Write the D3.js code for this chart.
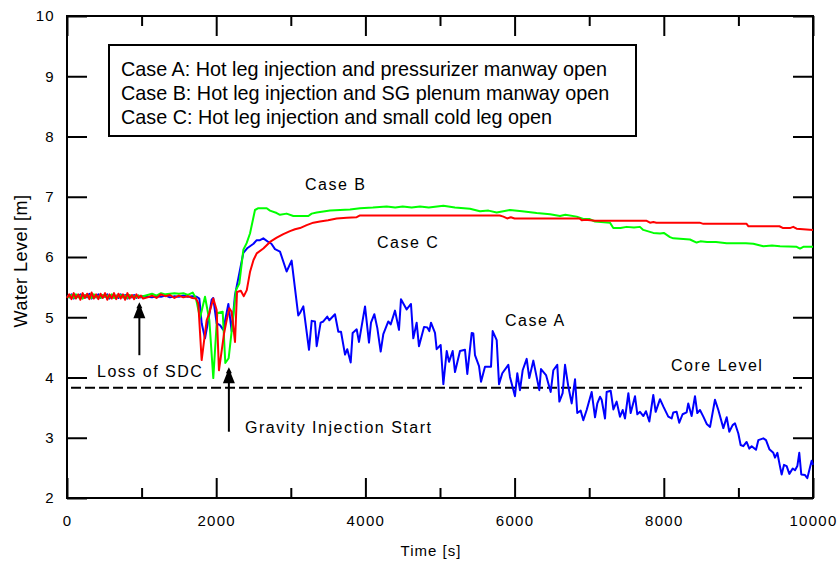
<!DOCTYPE html>
<html><head><meta charset="utf-8">
<script src="https://cdn.jsdelivr.net/npm/d3@7"></script>
<style>
html,body{margin:0;padding:0;background:#fff;}
svg{display:block;font-family:"Liberation Sans",Arial,Helvetica,sans-serif;}
</style></head>
<body><svg id="chart" width="839" height="562"></svg>
<script>
// ---------------- data ----------------
const xMajorTicks = [0, 2000, 4000, 6000, 8000, 10000];
const xMinorTicks = [1000, 3000, 5000, 7000, 9000];
const yTicks = [2, 3, 4, 5, 6, 7, 8, 9, 10];

const legendLines = [
  "Case A: Hot leg injection and pressurizer manway open",
  "Case B: Hot leg injection and SG plenum manway open",
  "Case C: Hot leg injection and small cold leg open"
];

const coreLevel = 3.83;

// Case A (blue): [time s, level m]
const caseA = [
[0,5.36],[30,5.33],[60,5.38],[90,5.31],[120,5.37],[150,5.34],[180,5.38],[210,5.32],[240,5.36],[270,5.33],[300,5.39],[330,5.31],[360,5.37],[390,5.33],[420,5.38],[450,5.32],[480,5.36],[510,5.34],[540,5.38],[570,5.31],[600,5.37],[630,5.33],[660,5.36],[690,5.32],[720,5.38],[750,5.33],[780,5.37],[810,5.31],[840,5.36],[870,5.33],[900,5.37],[930,5.32],[960,5.36],[990,5.33],[1020,5.35],
[1080,5.34],[1140,5.33],[1200,5.35],[1260,5.34],[1320,5.36],[1380,5.33],[1440,5.35],[1500,5.34],[1560,5.36],[1620,5.34],[1680,5.35],[1738,5.34],[1774,5.31],[1805,4.90],[1850,4.65],[1894,4.95],[1939,5.29],[1960,5.32],[2006,4.90],[2051,4.87],[2095,4.79],[2163,5.22],[2207,4.77],[2252,5.37],[2297,5.65],[2364,6.07],[2420,6.15],[2500,6.22],[2543,6.28],[2587,6.28],[2632,6.31],[2699,6.25],[2740,6.22],[2788,6.13],[2855,6.09],[2944,5.76],[3011,5.94],[3100,5.03],[3123,5.07],[3168,5.18],[3244,4.46],[3280,4.94],[3324,4.93],[3347,4.52],[3400,4.91],[3436,4.93],[3489,5.01],[3516,4.95],[3592,5.05],[3637,4.76],[3673,4.76],[3727,4.38],[3757,4.47],[3803,4.25],[3829,4.74],[3883,4.80],[3914,4.59],[3995,5.18],[4048,4.58],[4075,4.91],[4120,5.05],[4160,4.82],[4205,4.43],[4240,4.72],[4307,4.93],[4339,4.88],[4397,5.11],[4450,4.79],[4477,5.30],[4553,5.13],[4611,5.22],[4642,4.65],[4687,4.91],[4718,4.52],[4786,4.84],[4830,4.83],[4857,4.77],[4879,4.91],[4933,4.74],[4955,4.47],[5009,4.54],[5045,3.89],[5090,4.44],[5121,4.26],[5170,4.44],[5201,4.09],[5268,4.44],[5335,4.46],[5366,4.06],[5425,4.74],[5447,4.73],[5469,4.37],[5523,4.19],[5550,3.93],[5603,4.18],[5648,4.18],[5684,4.18],[5706,4.77],[5760,4.62],[5791,3.89],[5835,4.07],[5916,4.21],[5938,4.01],[6005,3.69],[6036,4.07],[6072,3.79],[6108,4.12],[6162,4.31],[6197,3.99],[6251,4.28],[6331,3.79],[6354,4.14],[6421,4.04],[6484,3.76],[6519,4.12],[6572,4.21],[6600,3.60],[6644,3.74],[6676,4.21],[6720,3.85],[6765,3.57],[6810,3.97],[6840,3.41],[6886,3.45],[6921,3.29],[6966,3.46],[7033,3.76],[7078,3.34],[7109,3.57],[7145,3.68],[7167,3.63],[7212,3.32],[7234,3.76],[7288,3.78],[7324,3.47],[7368,3.60],[7413,3.35],[7449,3.46],[7480,3.32],[7525,3.74],[7556,3.41],[7614,3.69],[7645,3.39],[7681,3.43],[7726,3.36],[7761,3.44],[7806,3.27],[7859,3.71],[7891,3.43],[7949,3.64],[7993,3.52],[8060,3.35],[8105,3.32],[8127,3.42],[8172,3.43],[8207,3.25],[8252,3.39],[8306,3.42],[8328,3.57],[8373,3.36],[8418,3.69],[8449,3.41],[8485,3.46],[8530,3.35],[8575,3.23],[8620,3.18],[8686,3.63],[8731,3.46],[8798,3.16],[8843,3.34],[8878,3.10],[8923,3.21],[8954,3.24],[8999,3.07],[9030,2.88],[9066,2.86],[9110,2.93],[9146,2.82],[9178,2.86],[9236,2.80],[9267,2.96],[9334,2.99],[9370,2.96],[9415,2.81],[9468,2.75],[9491,2.67],[9522,2.75],[9558,2.52],[9580,2.39],[9611,2.55],[9647,2.53],[9683,2.40],[9728,2.49],[9759,2.46],[9790,2.53],[9816,2.75],[9843,2.39],[9893,2.38],[9924,2.33],[9960,2.51],[9982,2.62],[10000,2.55]
];

// Case B (green)
const caseB = [
[0,5.35],[30,5.33],[60,5.37],[90,5.32],[120,5.38],[150,5.33],[180,5.36],[210,5.31],[240,5.37],[270,5.34],[300,5.36],[330,5.32],[360,5.38],[390,5.33],[420,5.35],[450,5.32],[480,5.37],[510,5.34],[540,5.36],[570,5.33],[600,5.38],[630,5.32],[660,5.36],[690,5.34],[720,5.37],[750,5.33],[780,5.36],[810,5.32],[840,5.37],[870,5.34],[900,5.35],[930,5.33],[960,5.36],[990,5.34],[1020,5.35],
[1080,5.37],[1140,5.39],[1200,5.36],[1260,5.40],[1320,5.38],[1380,5.39],[1440,5.40],[1500,5.39],[1560,5.40],[1620,5.37],[1685,5.41],[1729,5.31],[1783,4.99],[1850,5.34],[1908,4.95],[1961,3.99],[2015,5.07],[2087,5.09],[2122,4.24],[2167,4.32],[2229,5.01],[2265,5.45],[2310,5.56],[2364,6.12],[2408,6.23],[2453,6.39],[2520,6.78],[2565,6.81],[2677,6.81],[2721,6.77],[2811,6.73],[2855,6.70],[2944,6.72],[3034,6.68],[3123,6.68],[3235,6.68],[3280,6.72],[3347,6.74],[3526,6.77],[3794,6.79],[3928,6.81],[4100,6.82],[4285,6.84],[4400,6.82],[4500,6.84],[4620,6.82],[4732,6.84],[4850,6.82],[5045,6.85],[5200,6.82],[5402,6.80],[5536,6.76],[5650,6.77],[5760,6.74],[5938,6.78],[6100,6.76],[6296,6.73],[6475,6.71],[6609,6.68],[6680,6.70],[6832,6.67],[6921,6.63],[7000,6.63],[7078,6.59],[7279,6.57],[7323,6.48],[7420,6.48],[7502,6.50],[7600,6.49],[7680,6.50],[7725,6.45],[7859,6.40],[7950,6.39],[8000,6.40],[8083,6.33],[8127,6.31],[8351,6.29],[8440,6.24],[8490,6.26],[8580,6.25],[8700,6.25],[8843,6.23],[8950,6.23],[9100,6.23],[9200,6.22],[9334,6.18],[9450,6.19],[9558,6.18],[9781,6.17],[9826,6.14],[9870,6.17],[10000,6.17]
];

// Case C (red)
const caseC = [
[0,5.32],[30,5.38],[60,5.30],[90,5.40],[120,5.31],[150,5.38],[180,5.29],[210,5.40],[240,5.32],[270,5.39],[300,5.30],[330,5.41],[360,5.31],[390,5.38],[420,5.30],[450,5.39],[480,5.32],[510,5.40],[540,5.29],[570,5.38],[600,5.31],[630,5.40],[660,5.30],[690,5.39],[720,5.31],[750,5.38],[780,5.29],[810,5.40],[840,5.31],[870,5.37],[900,5.30],[930,5.38],[960,5.32],[990,5.36],[1020,5.31],
[1080,5.33],[1140,5.36],[1200,5.32],[1260,5.38],[1320,5.35],[1380,5.37],[1440,5.32],[1500,5.36],[1560,5.33],[1620,5.35],[1680,5.32],[1730,5.31],[1760,5.23],[1805,4.29],[1872,4.95],[1908,5.07],[1961,5.31],[2006,5.12],[2037,4.12],[2105,4.73],[2140,4.95],[2176,5.15],[2207,5.09],[2252,4.59],[2279,5.42],[2330,5.44],[2370,5.35],[2410,5.45],[2453,5.75],[2500,5.95],[2543,6.06],[2632,6.14],[2721,6.25],[2811,6.32],[2900,6.38],[2989,6.43],[3056,6.46],[3123,6.48],[3213,6.53],[3302,6.57],[3391,6.59],[3500,6.61],[3615,6.64],[3750,6.65],[3883,6.66],[3928,6.69],[5800,6.69],[5850,6.67],[5900,6.64],[5950,6.66],[6000,6.64],[6870,6.64],[6900,6.61],[6950,6.62],[7080,6.60],[7770,6.60],[7815,6.57],[7860,6.58],[7900,6.57],[8480,6.57],[8530,6.55],[9110,6.55],[9135,6.51],[9550,6.51],[9600,6.48],[9690,6.48],[9735,6.50],[9780,6.47],[10000,6.45]
];

const seriesColors = ["#0000ff", "#00ff00", "#ff0000"];

// annotations: [text, time, level]
const notes = [
  ["Case B", 3190, 7.11],
  ["Case C", 4155, 6.15],
  ["Case A", 5871, 4.85],
  ["Core Level", 8097, 4.11],
  ["Loss of SDC", 402, 4.01],
  ["Gravity Injection Start", 2386, 3.08]
];
// arrows: [time, tip level, tail level]
const arrows = [
  [970, 5.25, 4.37],
  [2170, 4.17, 3.10]
];

// ---------------- drawing ----------------
const svg = d3.select("#chart");
const L = 67, R = 813, T = 16, B = 498;
const x = d3.scaleLinear().domain([0, 10000]).range([L, R]);
const y = d3.scaleLinear().domain([2, 10]).range([B, T]);
const FONT = '"Liberation Sans",Arial,Helvetica,sans-serif';

function styleAxis(g, showText) {
  g.select(".domain").remove();
  g.selectAll(".tick line").attr("stroke", "#000").attr("stroke-width", 2);
  g.selectAll(".tick text").attr("fill", "#000").attr("font-size", 15)
    .attr("font-family", FONT).style("letter-spacing", "1.3px");
  if (!showText) g.selectAll(".tick text").remove();
}

svg.append("g").attr("transform", `translate(0,${B})`)
  .call(d3.axisBottom(x).tickValues(xMajorTicks).tickSize(-20).tickPadding(17).tickFormat(d3.format("d")))
  .call(g => styleAxis(g, true));
svg.append("g").attr("transform", `translate(0,${B})`)
  .call(d3.axisBottom(x).tickValues(xMinorTicks).tickSize(-10))
  .call(g => styleAxis(g, false));
svg.append("g").attr("transform", `translate(0,${T})`)
  .call(d3.axisTop(x).tickValues(xMajorTicks).tickSize(-20))
  .call(g => styleAxis(g, false));
svg.append("g").attr("transform", `translate(0,${T})`)
  .call(d3.axisTop(x).tickValues(xMinorTicks).tickSize(-10))
  .call(g => styleAxis(g, false));
svg.append("g").attr("transform", `translate(${L},0)`)
  .call(d3.axisLeft(y).tickValues(yTicks).tickSize(-20).tickPadding(12).tickFormat(d3.format("d")))
  .call(g => styleAxis(g, true));
svg.append("g").attr("transform", `translate(${R},0)`)
  .call(d3.axisRight(y).tickValues(yTicks).tickSize(-20))
  .call(g => styleAxis(g, false));

// frame
svg.append("rect").attr("x", L).attr("y", T).attr("width", R - L).attr("height", B - T)
  .attr("fill", "none").attr("stroke", "#000").attr("stroke-width", 2);

// core level dashed line
svg.append("line")
  .attr("x1", x(54)).attr("x2", x(9853))
  .attr("y1", y(coreLevel)).attr("y2", y(coreLevel))
  .attr("stroke", "#000").attr("stroke-width", 2).attr("stroke-dasharray", "10,4");

// series
const line = d3.line().x(d => x(d[0])).y(d => y(d[1]));
[caseA, caseB, caseC].forEach((s, i) => {
  svg.append("path").datum(s).attr("d", line)
    .attr("fill", "none").attr("stroke", seriesColors[i])
    .attr("stroke-width", 2).attr("stroke-linejoin", "round");
});

// arrows
arrows.forEach(a => {
  const ax = x(a[0]), ty = y(a[1]), by = y(a[2]);
  svg.append("line").attr("x1", ax).attr("x2", ax).attr("y1", ty + 10).attr("y2", by)
    .attr("stroke", "#000").attr("stroke-width", 2);
  svg.append("path")
    .attr("d", `M${ax},${ty} L${ax - 3},${ty + 6} L${ax - 2},${ty + 6} L${ax - 6},${ty + 16} L${ax + 6},${ty + 16} L${ax + 2},${ty + 6} L${ax + 3},${ty + 6} Z`)
    .attr("fill", "#000");
});

// annotation text
notes.forEach(n => {
  svg.append("text").attr("x", x(n[1])).attr("y", y(n[2]))
    .attr("font-size", 16).attr("font-family", FONT).style("letter-spacing", "1.5px")
    .attr("fill", "#000").text(n[0]);
});

// legend box
svg.append("rect").attr("x", 109).attr("y", 45).attr("width", 527).attr("height", 91)
  .attr("fill", "#fff").attr("stroke", "#000").attr("stroke-width", 2);
legendLines.forEach((t, i) => {
  svg.append("text").attr("x", 121).attr("y", 76 + i * 24)
    .attr("font-size", 19.8).attr("font-family", FONT).attr("fill", "#000").text(t);
});

// axis titles
svg.append("text").attr("x", 431).attr("y", 556).attr("text-anchor", "middle")
  .attr("font-size", 15).attr("font-family", FONT).style("letter-spacing", "1px").text("Time [s]");
svg.append("text").attr("transform", "translate(27,261) rotate(-90)").attr("text-anchor", "middle")
  .attr("font-size", 18).attr("font-family", FONT).style("letter-spacing", "0.5px").text("Water Level [m]");
</script></body></html>
